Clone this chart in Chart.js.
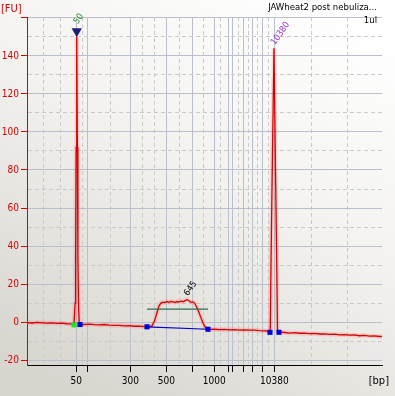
<!DOCTYPE html>
<html>
<head>
<meta charset="utf-8">
<script src="https://cdn.jsdelivr.net/npm/chart.js@4.4.1/dist/chart.umd.min.js"></script>
<style>
  html, body { margin: 0; padding: 0; background: #fff; }
  #wrap { width: 395px; height: 396px; }
</style>
</head>
<body>
<div id="wrap"><canvas id="chart" width="395" height="396"></canvas></div>
<script>
// Electropherogram data (x = migration time [s], y = fluorescence [FU])

// Ladder sizes and their migration times (x axis ticks)
const ladderSizes = [50, 100, 300, 500, 700, 1000, 1500, 2000, 3000, 5000, 7000, 10380];
const ladderTimes = [49.86, 52.06, 60.66, 67.86, 73.06, 77.46, 80.34, 81.14, 83.2, 85.06, 87.06, 89.46];
const labeledSizes = [50, 300, 500, 1000, 10380];
// Dashed in-between grid positions
const minorTimes = [43.2, 46.6, 51.0, 56.6, 63.0, 65.6, 70.6, 75.2, 78.8, 82.2, 84.2, 86.0, 88.2, 96.8, 104.0];

// Y ticks
const yTickValues = [-20, -10, 0, 10, 20, 30, 40, 50, 60, 70, 80, 90, 100, 110, 120, 130, 140, 150, 160];
const yLabelValues = [-20, 0, 20, 40, 60, 80, 100, 120, 140];

// Trace
const traceTime = [
  40, 41, 42, 43, 44, 45, 46, 47, 48, 48.8, 49.4,
  49.55, 49.62, 49.72, 49.82, 49.95, 50.08, 50.18, 50.3, 50.45,
  50.8, 51.5, 52.5, 53.5, 54.5, 55.5, 56.5, 57.5, 58.5, 59.5, 60.5, 61.5, 62.5, 63.5, 64.3,
  65.0, 65.5, 66.0, 66.4, 66.8, 67.2, 67.6, 68.0, 68.4, 68.8, 69.2, 69.6, 70.0, 70.4, 70.8,
  71.2, 71.6, 72.0, 72.4, 72.8, 73.2, 73.6, 74.0, 74.4, 74.8, 75.2, 75.6, 76.0, 76.6,
  77.5, 78.5, 79.5, 80.5, 81.5, 82.5, 83.5, 84.5, 85.5, 86.5, 87.5, 88.3,
  88.65, 88.8, 89.1, 89.4, 89.65, 89.95, 90.1,
  90.6, 91.5, 92.5, 93.5, 94.5, 95.5, 96.5, 97.5, 98.5, 99.5, 100.5, 101.5, 102.5,
  103.5, 104.5, 105.5, 106.5, 107.5, 108.5, 109.5, 110.5, 111
];
const traceFU = [
  -0.3, -0.5, -0.2, -0.4, -0.6, -0.4, -0.7, -0.6, -0.9, -1.0, -1.2,
  -1.2, 10, 35, 92, 150, 92, 35, 10, -1.2,
  -1.3, -1.3, -1.1, -1.4, -1.5, -1.3, -1.6, -1.8, -1.7, -2.0, -1.9, -2.2, -2.1, -2.4, -2.5,
  -2.0, 0.5, 5.0, 8.5, 10.0, 10.5, 10.2, 10.8, 10.4, 10.9, 10.6, 10.3, 10.8, 10.5, 11.0,
  10.7, 11.3, 11.8, 11.2, 10.4, 10.6, 9.6, 7.5, 5.0, 2.2, -0.5, -2.5, -3.6, -3.9,
  -3.8, -4.0, -3.9, -4.1, -4.0, -4.2, -4.1, -4.3, -4.2, -4.5, -4.6, -4.8,
  -4.8, 31, 90, 144, 90, 31, -5.0,
  -5.2, -5.5, -5.8, -5.6, -5.9, -5.8, -6.1, -6.0, -6.3, -6.2, -6.5, -6.4, -6.7,
  -6.6, -6.9, -6.8, -7.2, -7.0, -7.4, -7.3, -7.6, -7.5
];

// Peak / region markers
const markerTime = [50.6, 64.0, 76.2, 88.6, 90.4];
const markerFU = [-1.3, -2.5, -3.8, -5.4, -5.4];
const lowerMarkerTime = [49.4];
const lowerMarkerFU = [-1.5];
const peakTopTime = [49.95];
const peakTopFU = [153];

// Smear region: baseline and average level
const regionTime = [64.0, 76.2];
const regionBaseFU = [-2.5, -3.8];
const regionLevelFU = [6.8, 6.8];

// Peak labels
const peakLabelText = ['50', '645', '10380'];
const peakLabelTime = [49.95, 72.0, 89.4];
const peakLabelFU = [155, 12, 144];

const RED = '#D80000';
const FONT = "'Liberation Sans Narrow', 'DejaVu Sans Condensed', 'Liberation Sans', sans-serif";

function pts(xs, ys) {
    return xs.map((x, i) => ({ x: x, y: ys[i] }));
}

const bgPlugin = {
    id: 'bg',
    beforeDraw(chart) {
        const ctx = chart.ctx;
        const g = ctx.createLinearGradient(320, 0, 100, 396);
        g.addColorStop(0, '#FFFFFF');
        g.addColorStop(0.45, '#F3F2EF');
        g.addColorStop(1, '#D9D6D0');
        ctx.save();
        ctx.fillStyle = g;
        ctx.fillRect(0, 0, chart.width, chart.height);
        ctx.restore();
    }
};

const textPlugin = {
    id: 'texts',
    afterDraw(chart) {
        const ctx = chart.ctx;
        const xs = chart.scales.x, ys = chart.scales.y;
        const labelColors = ['#2E8B2E', '#000000', '#9932CC'];
        ctx.save();
        ctx.font = '9px ' + FONT;
        ctx.textBaseline = 'alphabetic';

        // peak labels
        peakLabelText.forEach((t, i) => {
            const px = xs.getPixelForValue(peakLabelTime[i]) + 1;
            const py = ys.getPixelForValue(peakLabelFU[i]) - 3;
            ctx.save();
            ctx.translate(px, py);
            ctx.rotate(-55 * Math.PI / 180);
            ctx.fillStyle = labelColors[i];
            ctx.textAlign = 'left';
            ctx.fillText(t, 0, 0);
            ctx.restore();
        });

        // axis units
        ctx.fillStyle = RED;
        ctx.textAlign = 'left';
        ctx.font = '11px ' + FONT;
        ctx.fillText('[FU]', 1, 12);
        ctx.fillStyle = '#000';
        ctx.textAlign = 'right';
        ctx.fillText('[bp]', 389, 384);

        // sample title
        ctx.font = '9.5px ' + FONT;
        ctx.fillText('JAWheat2 post nebuliza...', 377, 10);
        ctx.fillText('1ul', 377, 23);
        ctx.restore();
    }
};

const isMajorX = v => ladderTimes.includes(v);

new Chart(document.getElementById('chart'), {
    type: 'scatter',
    data: {
        datasets: [
            {
                data: pts(peakTopTime, peakTopFU),
                pointStyle: 'triangle', rotation: 180, pointRadius: 6,
                backgroundColor: '#1E1E78', borderColor: '#1E1E78', borderWidth: 0,
                order: 0
            },
            {
                data: pts(markerTime, markerFU),
                pointStyle: 'rect', pointRadius: 3.6,
                backgroundColor: '#0000DD', borderWidth: 0,
                order: 0
            },
            {
                data: pts(lowerMarkerTime, lowerMarkerFU),
                pointStyle: 'rect', pointRadius: 3.6,
                backgroundColor: '#22E022', borderWidth: 0,
                order: 0
            },
            {
                data: pts(regionTime, regionBaseFU),
                showLine: true, pointRadius: 0,
                borderColor: '#0000CC', borderWidth: 1.2,
                order: 1
            },
            {
                data: pts(regionTime, regionLevelFU),
                showLine: true, pointRadius: 0,
                borderColor: '#2E7050', borderWidth: 1.2,
                order: 1
            },
            {
                data: pts(traceTime, traceFU),
                showLine: true, pointRadius: 0,
                borderColor: RED, borderWidth: 1.3,
                order: 2
            },
            {
                // soft glow under the trace
                data: pts(traceTime, traceFU),
                showLine: true, pointRadius: 0,
                borderColor: 'rgba(255, 70, 70, 0.18)', borderWidth: 4.5,
                order: 3
            }
        ]
    },
    options: {
        responsive: false,
        animation: false,
        events: [],
        layout: { padding: { top: 17, right: 13, left: 0, bottom: 0 } },
        plugins: { legend: { display: false }, tooltip: { enabled: false } },
        scales: {
            x: {
                type: 'linear', min: 40, max: 111,
                afterBuildTicks: s => {
                    s.ticks = ladderTimes.concat(minorTimes).sort((a, b) => a - b).map(v => ({ value: v }));
                },
                afterFit: s => { s.height = 31; },
                ticks: {
                    autoSkip: false, maxRotation: 0, minRotation: 0,
                    color: '#000', padding: 3,
                    font: { family: FONT, size: 10 },
                    callback: function(v) {
                        const i = ladderTimes.indexOf(v);
                        if (i < 0) return '';
                        return labeledSizes.includes(ladderSizes[i]) ? String(ladderSizes[i]) : '';
                    }
                },
                grid: {
                    color: c => (c.tick && isMajorX(c.tick.value)) ? '#B9C0CA' : '#CACACA',
                    tickColor: c => (c.tick && isMajorX(c.tick.value)) ? '#000' : 'rgba(0,0,0,0)',
                    tickLength: 7,
                    lineWidth: 1
                },
                border: {
                    color: '#000', width: 1,
                    dash: c => (c.tick && !isMajorX(c.tick.value)) ? [4, 3] : []
                }
            },
            y: {
                type: 'linear', min: -22.6, max: 160.5,
                afterBuildTicks: s => { s.ticks = yTickValues.map(v => ({ value: v })); },
                afterFit: s => { s.width = 27; },
                ticks: {
                    color: RED, padding: 2,
                    font: { family: FONT, size: 10 },
                    callback: v => yLabelValues.includes(v) ? String(v) : ''
                },
                grid: {
                    color: c => (c.tick && c.tick.value % 20 === 0) ? '#B9C0CA' : '#CACACA',
                    tickColor: c => (c.tick && c.tick.value % 20 === 0) ? RED : 'rgba(0,0,0,0)',
                    tickLength: 6,
                    lineWidth: 1
                },
                border: {
                    color: RED, width: 1,
                    dash: c => (c.tick && c.tick.value % 20 !== 0) ? [4, 3] : []
                }
            }
        }
    },
    plugins: [bgPlugin, textPlugin]
});
</script>
</body>
</html>
